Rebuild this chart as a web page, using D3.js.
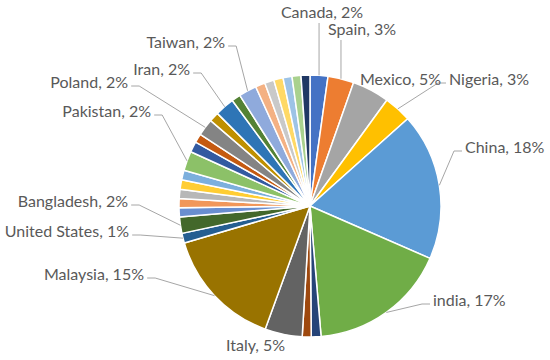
<!DOCTYPE html>
<html>
<head>
<meta charset="utf-8">
<script src="https://cdn.jsdelivr.net/npm/d3@7"></script>
<style>
  body { margin: 0; background: #fff; }
  #chart text { font-family: Lato, "Open Sans", sans-serif; font-size: 16px; fill: #595959; }
</style>
</head>
<body>
<svg id="chart"></svg>
<script>
// slices clockwise from 12 o'clock, blank name = unlabeled slice
let names = ['Canada', 'Spain', 'Mexico', 'Nigeria', 'China', 'india', '', '', 'Italy', 'Malaysia',
             'United States', 'Bangladesh', '', '', '', '', '', 'Pakistan', '', '', 'Poland', '',
             'Iran', '', 'Taiwan', '', '', '', '', '', '']
let values = [2.2, 3.2, 4.6, 3.4, 18.15, 17.1, 1.2, 1.1, 4.6, 14.9,
              1.2, 2.0, 1.15, 1.1, 1.15, 1.15, 1.2, 2.4, 1.3, 1.1, 2.1, 1.2,
              2.4, 1.1, 2.2, 1.2, 1.15, 1.15, 1.1, 1.1, 1.1]
let colors = ['#4472C4', '#ED7D31', '#A5A5A5', '#FFC000', '#5B9BD5', '#70AD47',
              '#264478', '#9E480E', '#636363', '#997300', '#255E91', '#43682B',
              '#698ED0', '#F1975A', '#B7B7B7', '#FFCD33', '#7CAFDD', '#8CC168',
              '#335AA1', '#C55A11', '#848484', '#BF9000', '#2E75B6', '#548235',
              '#8FAADC', '#F4B183', '#C9C9C9', '#FFD966', '#9DC3E6', '#A9D18E', '#203864']

let width = 550
let height = 360
let cx = 310
let cy = 206
let radius = 131

// where each label sits, relative to the pie centre (dragged by hand in the original)
let labelSpots = {
  'Canada':        { dx: 12,   dy: -188, anchor: 'middle', leader: 'vertical' },
  'Spain':         { dx: 52,   dy: -171, anchor: 'middle', leader: 'vertical' },
  'Mexico':        { dx: 50,   dy: -121, anchor: 'start',  leader: 'none' },
  'Nigeria':       { dx: 139,  dy: -121, anchor: 'start',  leader: 'side' },
  'China':         { dx: 155,  dy: -53,  anchor: 'start',  leader: 'side' },
  'india':         { dx: 123,  dy: 100,  anchor: 'start',  leader: 'side' },
  'Italy':         { dx: -84,  dy: 145,  anchor: 'start',  leader: 'none' },
  'Malaysia':      { dx: -166, dy: 74,   anchor: 'end',    leader: 'side' },
  'United States': { dx: -181, dy: 31,   anchor: 'end',    leader: 'side' },
  'Bangladesh':    { dx: -182, dy: 1,    anchor: 'end',    leader: 'side' },
  'Pakistan':      { dx: -159, dy: -89,  anchor: 'end',    leader: 'side' },
  'Poland':        { dx: -182, dy: -118, anchor: 'end',    leader: 'side' },
  'Iran':          { dx: -120, dy: -131, anchor: 'end',    leader: 'side' },
  'Taiwan':        { dx: -85,  dy: -158, anchor: 'end',    leader: 'side' }
}

let total = d3.sum(values)

let canvas = d3.select('#chart')
               .attr('width', width)
               .attr('height', height)

let pie = d3.pie()
            .sort(null)
            .value((item) => item.value)

let slices = pie(values.map((v, i) => {
  return { name: names[i], value: v, color: colors[i] }
}))

let arc = d3.arc()
            .innerRadius(0)
            .outerRadius(radius)

let edge = d3.arc()
             .innerRadius(radius)
             .outerRadius(radius)

let g = canvas.append('g')
              .attr('transform', `translate(${cx}, ${cy})`)

g.selectAll('path.slice')
 .data(slices)
 .enter()
 .append('path')
 .attr('class', 'slice')
 .attr('d', arc)
 .attr('fill', (d) => d.data.color)
 .attr('stroke', '#fff')
 .attr('stroke-width', 1.5)
 .attr('stroke-linejoin', 'round')

let labelled = slices.filter((d) => d.data.name !== '')

let labels = g.selectAll('text.label')
              .data(labelled)
              .enter()
              .append('text')
              .attr('class', 'label')
              .attr('x', (d) => labelSpots[d.data.name].dx)
              .attr('y', (d) => labelSpots[d.data.name].dy)
              .attr('text-anchor', (d) => labelSpots[d.data.name].anchor)
              .text((d) => `${d.data.name}, ${Math.round(d.data.value / total * 100)}%`)

let line = d3.line()

labels.each(function (d) {
  let spot = labelSpots[d.data.name]
  if (spot.leader === 'none') return
  let box = this.getBBox()
  let p = edge.centroid(d)
  let pts
  if (spot.leader === 'vertical') {
    pts = [[p[0], spot.dy + 5], p]
  } else {
    let y = spot.dy - 2
    let x0 = spot.anchor === 'end' ? box.x + box.width + 3 : box.x - 3
    let x1 = spot.anchor === 'end' ? x0 + 8 : x0 - 8
    pts = [[x0, y], [x1, y], p]
  }
  g.insert('path', 'text.label')
   .attr('d', line(pts))
   .attr('fill', 'none')
   .attr('stroke', '#A6A6A6')
   .attr('stroke-width', 1)
})
</script>
</body>
</html>
